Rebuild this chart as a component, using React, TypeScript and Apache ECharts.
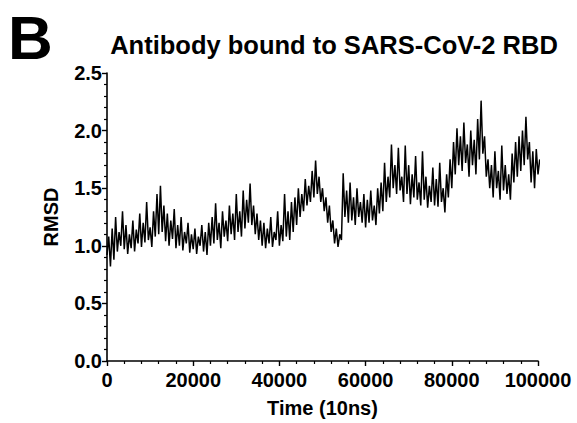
import React, { useEffect, useRef } from "react";
import * as echarts from "echarts";

const titleText = "Antibody bound to SARS-CoV-2 RBD";
const panelLetter = "B";
const xName = "Time (10ns)";
const yName = "RMSD";
const timeStep = 400;
const rmsd = [
  0.92, 1.08, 0.82, 1.15, 0.88, 1.25, 0.95, 1.12, 1.0, 1.3, 0.97,
  1.18, 0.93, 1.1, 0.98, 1.22, 0.95, 1.14, 1.02, 1.28, 0.99,
  1.2, 1.03, 1.38, 1.05, 1.16, 0.99, 1.3, 1.08, 1.45, 1.1,
  1.52, 1.12, 1.35, 1.04, 1.28, 1.0, 1.22, 1.06, 1.32, 0.98,
  1.18, 1.0, 1.25, 0.96, 1.12, 1.02, 1.2, 0.94, 1.1, 0.97,
  1.15, 0.93, 1.08, 1.0, 1.18, 0.95, 1.12, 0.92, 1.2, 1.0,
  1.25, 1.02, 1.37, 1.05, 1.2, 0.98, 1.3, 1.08, 1.22, 1.04,
  1.35, 1.1, 1.28, 1.05, 1.45, 1.12, 1.3, 1.08, 1.48, 1.15,
  1.4, 1.2, 1.54, 1.18, 1.35, 1.1, 1.28, 1.05, 1.22, 1.0,
  1.2, 0.98, 1.15, 1.02, 1.25, 0.99, 1.12, 1.05, 1.3, 1.0,
  1.18, 1.04, 1.45, 1.08, 1.3, 1.05, 1.38, 1.12, 1.42, 1.18,
  1.5, 1.25, 1.45, 1.3, 1.58, 1.35, 1.52, 1.38, 1.65, 1.42,
  1.74, 1.45, 1.6, 1.38, 1.5, 1.3, 1.42, 1.2, 1.35, 1.12,
  1.22, 1.02, 1.15, 0.99, 1.1, 1.05, 1.63, 1.25, 1.48, 1.2,
  1.55, 1.22, 1.42, 1.18, 1.5, 1.25, 1.38, 1.2, 1.45, 1.16,
  1.4, 1.2, 1.48, 1.22, 1.35, 1.18, 1.5, 1.28, 1.55, 1.3,
  1.72, 1.38, 1.6, 1.42, 1.88, 1.5, 1.7, 1.45, 1.85, 1.48,
  1.6, 1.38, 1.87, 1.45, 1.7, 1.36, 1.62, 1.42, 1.78, 1.4,
  1.55, 1.35, 1.82, 1.4, 1.6, 1.33, 1.52, 1.38, 1.68, 1.35,
  1.58, 1.34, 1.72, 1.38, 1.5, 1.29, 1.62, 1.42, 1.75, 1.5,
  1.9, 1.62, 2.02, 1.7, 1.95, 1.65, 2.07, 1.72, 1.88, 1.6,
  2.0, 1.7, 1.92, 1.62, 2.1, 1.75, 2.26, 1.8, 1.95, 1.6,
  1.75, 1.5, 1.7, 1.42, 1.82, 1.5, 1.65, 1.4, 1.87, 1.48,
  1.7, 1.45, 1.62, 1.4, 1.8, 1.55, 1.9, 1.6, 1.95, 1.65,
  2.0, 1.7, 2.12, 1.75, 1.9, 1.55, 1.82, 1.5, 1.84, 1.62, 1.75,
];

const FONT = "'Liberation Sans', Arial, Helvetica, sans-serif";

export default function App() {
  const ref = useRef<HTMLDivElement>(null);
  useEffect(() => {
    if (!ref.current) return;
    const chart = echarts.init(ref.current, undefined, { renderer: "svg" });
    const data = rmsd.map((v, i) => [i * timeStep, v]);
    const axisCommon = {
      axisLine: { show: true, lineStyle: { color: "#000", width: 1.6 } },
      axisTick: { show: true, length: 5, lineStyle: { color: "#000", width: 1.4 } },
      minorTick: { show: true, splitNumber: 5, length: 3, lineStyle: { color: "#000", width: 1.2 } },
      splitLine: { show: false },
      minorSplitLine: { show: false },
      axisLabel: { color: "#000", fontFamily: FONT, fontWeight: "bold", fontSize: 20 },
      nameTextStyle: { color: "#000", fontFamily: FONT, fontWeight: "bold", fontSize: 20 },
    };
    chart.setOption({
      animation: false,
      backgroundColor: "#fff",
      grid: { left: 107, right: 39, top: 73, bottom: 50, containLabel: false },
      graphic: [
        {
          type: "text",
          x: 8,
          y: 37,
          style: {
            text: panelLetter,
            fontFamily: FONT,
            fontWeight: "bold",
            fontSize: 62,
            fill: "#000",
            textVerticalAlign: "middle",
          },
        },
        {
          type: "text",
          x: 334,
          y: 45,
          style: {
            text: titleText,
            fontFamily: FONT,
            fontWeight: "bold",
            fontSize: 25.5,
            fill: "#000",
            textAlign: "center",
            textVerticalAlign: "middle",
          },
        },
      ],
      xAxis: {
        type: "value",
        min: 0,
        max: 100000,
        interval: 20000,
        name: xName,
        nameLocation: "middle",
        nameGap: 37,
        ...axisCommon,
        axisLabel: { ...axisCommon.axisLabel, margin: 9, formatter: (v: number) => String(v) },
      },
      yAxis: {
        type: "value",
        min: 0,
        max: 2.5,
        interval: 0.5,
        name: yName,
        nameLocation: "middle",
        nameGap: 46,
        nameRotate: 90,
        ...axisCommon,
        axisLabel: { ...axisCommon.axisLabel, margin: 5, formatter: (v: number) => v.toFixed(1) },
      },
      series: [
        {
          type: "line",
          data,
          showSymbol: false,
          symbol: "none",
          lineStyle: { color: "#000", width: 1.5 },
        },
      ],
    });
    return () => chart.dispose();
  }, []);
  return <div ref={ref} style={{ width: 577, height: 423, position: "absolute", left: 0, top: 0 }} />;
}
